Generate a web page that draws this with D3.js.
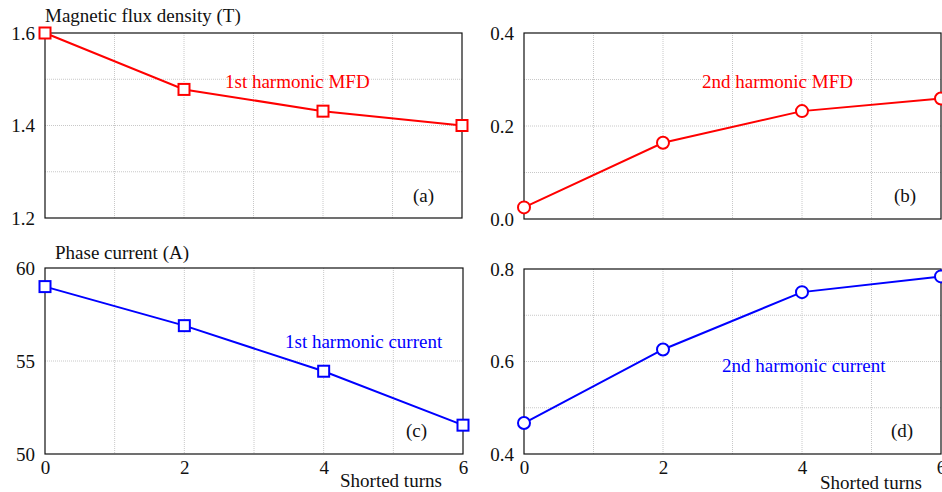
<!DOCTYPE html>
<html>
<head>
<meta charset="utf-8">
<script src="https://cdn.jsdelivr.net/npm/d3@7"></script>
<style>
  html, body { margin: 0; padding: 0; background: #fff; }
  svg { display: block; font-family: "Liberation Serif", "DejaVu Serif", serif; }
  svg text { font-family: "Liberation Serif", serif; }
</style>
</head>
<body>
<svg id="chart" width="942" height="492"></svg>
<script>
// ---- data ----
const shortedTurns = [0, 2, 4, 6];
const mfd1st = [1.60, 1.478, 1.431, 1.40];
const mfd2nd = [0.025, 0.164, 0.232, 0.259];
const current1st = [59.0, 56.9, 54.45, 51.55];
const current2nd = [0.467, 0.626, 0.75, 0.784];

const ticksA = [1.2, 1.4, 1.6];
const ticksB = [0.0, 0.2, 0.4];
const ticksC = [50, 55, 60];
const ticksD = [0.4, 0.6, 0.8];
const xTicks = [0, 2, 4, 6];

const svg = d3.select("#chart");
const FS = 19;

const panels = [
  { values: mfd1st, yDomain: [1.2, 1.6], yTicks: ticksA, yFmt: d3.format(".1f"),
    hGrid: [1.3, 1.4, 1.5], x0: 45, x1: 462, yTop: 33, yBot: 218,
    color: "#ff0000", marker: "square", note: "1st harmonic MFD", noteX: 225, noteY: 88,
    tag: "(a)", tagX: 413, tagY: 202, title: "Magnetic flux density (T)", titleX: 45, titleY: 22, xAxis: false },
  { values: mfd2nd, yDomain: [0, 0.4], yTicks: ticksB, yFmt: d3.format(".1f"),
    hGrid: [0.1, 0.2, 0.3], x0: 524, x1: 941, yTop: 33, yBot: 219,
    color: "#ff0000", marker: "circle", note: "2nd harmonic MFD", noteX: 702, noteY: 88,
    tag: "(b)", tagX: 894, tagY: 202, xAxis: false },
  { values: current1st, yDomain: [50, 60], yTicks: ticksC, yFmt: d3.format("d"),
    hGrid: [55], x0: 45, x1: 463, yTop: 268, yBot: 454,
    color: "#0000ff", marker: "square", note: "1st harmonic current", noteX: 285, noteY: 348,
    tag: "(c)", tagX: 406, tagY: 437, title: "Phase current (A)", titleX: 55, titleY: 259,
    xAxis: true, xLabelX: 340, xLabelY: 487 },
  { values: current2nd, yDomain: [0.4, 0.8], yTicks: ticksD, yFmt: d3.format(".1f"),
    hGrid: [0.5, 0.6, 0.7], x0: 524, x1: 941, yTop: 269, yBot: 454,
    color: "#0000ff", marker: "circle", note: "2nd harmonic current", noteX: 722, noteY: 372,
    tag: "(d)", tagX: 891, tagY: 437, xAxis: true, xLabelX: 820, xLabelY: 489 }
];

panels.forEach(p => {
  const x = d3.scaleLinear().domain([0, 6]).range([p.x0, p.x1]);
  const y = d3.scaleLinear().domain(p.yDomain).range([p.yBot, p.yTop]);
  const g = svg.append("g");

  // grid
  g.append("g").selectAll("line").data([1, 2, 3, 4, 5]).join("line")
    .attr("x1", d => x(d)).attr("x2", d => x(d))
    .attr("y1", p.yTop).attr("y2", p.yBot)
    .attr("stroke", "#c8c8c8").attr("stroke-width", 1).attr("stroke-dasharray", "1,1");
  g.append("g").selectAll("line").data(p.hGrid).join("line")
    .attr("x1", p.x0).attr("x2", p.x1)
    .attr("y1", d => y(d)).attr("y2", d => y(d))
    .attr("stroke", "#c8c8c8").attr("stroke-width", 1).attr("stroke-dasharray", "1,1");

  // frame
  g.append("rect").attr("x", p.x0).attr("y", p.yTop)
    .attr("width", p.x1 - p.x0).attr("height", p.yBot - p.yTop)
    .attr("fill", "none").attr("stroke", "#111").attr("stroke-width", 1.2);

  // y axis labels
  const ya = d3.axisLeft(y).tickValues(p.yTicks).tickSize(0).tickPadding(10).tickFormat(p.yFmt);
  const yg = g.append("g").attr("transform", `translate(${p.x0},0)`).call(ya)
    .attr("font-family", "Liberation Serif").attr("font-size", FS);
  yg.select(".domain").remove();
  yg.selectAll("text").attr("fill", "#111");

  if (p.xAxis) {
    const xa = d3.axisBottom(x).tickValues(xTicks).tickSize(0).tickPadding(7).tickFormat(d3.format("d"));
    const xg = g.append("g").attr("transform", `translate(0,${p.yBot})`).call(xa)
      .attr("font-family", "Liberation Serif").attr("font-size", FS);
    xg.select(".domain").remove();
    xg.selectAll("text").attr("fill", "#111");
    g.append("text").attr("x", p.xLabelX).attr("y", p.xLabelY)
      .attr("font-size", FS).attr("fill", "#111").text("Shorted turns");
  }

  // line
  const line = d3.line().x((d, i) => x(shortedTurns[i])).y(d => y(d));
  g.append("path").datum(p.values).attr("d", line)
    .attr("fill", "none").attr("stroke", p.color).attr("stroke-width", 2);

  // markers
  if (p.marker === "square") {
    g.selectAll("rect.mk").data(p.values).join("rect").attr("class", "mk")
      .attr("x", (d, i) => x(shortedTurns[i]) - 5.5).attr("y", d => y(d) - 5.5)
      .attr("width", 11).attr("height", 11)
      .attr("fill", "#fff").attr("stroke", p.color).attr("stroke-width", 2);
  } else {
    g.selectAll("circle.mk").data(p.values).join("circle").attr("class", "mk")
      .attr("cx", (d, i) => x(shortedTurns[i])).attr("cy", d => y(d)).attr("r", 6)
      .attr("fill", "#fff").attr("stroke", p.color).attr("stroke-width", 2);
  }

  // annotations
  g.append("text").attr("x", p.noteX).attr("y", p.noteY)
    .attr("font-size", FS).attr("fill", p.color).text(p.note);
  g.append("text").attr("x", p.tagX).attr("y", p.tagY)
    .attr("font-size", FS).attr("fill", "#111").text(p.tag);
  if (p.title) {
    g.append("text").attr("x", p.titleX).attr("y", p.titleY)
      .attr("font-size", FS).attr("fill", "#111").text(p.title);
  }
});
</script>
</body>
</html>
